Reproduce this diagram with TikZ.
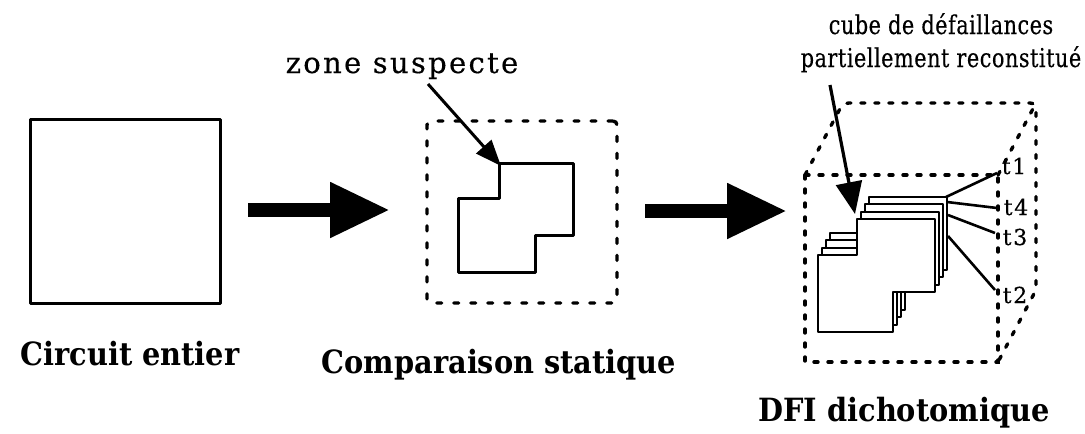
\documentclass[tikz,border=0pt]{standalone}
\usepackage{fontspec}
\setmainfont{DejaVu Serif}
\newfontfamily\labfont[LetterSpace=8,FakeBold=0.4]{DejaVu Serif}
\newfontfamily\cubefont[LetterSpace=2,FakeStretch=0.8,FakeBold=0.4]{DejaVu Serif}
\newfontfamily\titlefont[FakeStretch=0.9]{DejaVu Serif}
\usetikzlibrary{arrows.meta}
\begin{document}
\begin{tikzpicture}[x=1pt,y=-1pt,
  solidline/.style={line width=3pt, line join=round},
  dashbox/.style={line width=3.4pt, dash pattern=on 5pt off 12pt, line cap=round},
  cubedash/.style={line width=3.4pt, dash pattern=on 4pt off 10pt, line cap=round},
  bigarrow/.style={line width=14pt, -{Triangle[length=60pt,width=52pt]}},
  thinarrow/.style={line width=3pt, -{Triangle[length=26pt,width=20pt]}},
  cubearrow/.style={line width=3.2pt, -{Triangle[length=32pt,width=26pt]}},
  tickline/.style={line width=2.6pt},
  lab/.style={font=\fontsize{29}{32}\selectfont\labfont, inner sep=0pt},
  cubelab/.style={font=\fontsize{26}{29}\selectfont\cubefont, inner sep=0pt},
  tlab/.style={font=\fontsize{22}{24}\selectfont\labfont, inner sep=0pt},
  ttl/.style={font=\fontsize{32}{36}\selectfont\titlefont\bfseries, inner sep=0pt},
  sheet/.style={line width=2.6pt, fill=white, line join=round}]
\useasboundingbox (0,0) rectangle (1085,434);

% circuit entier
\node[draw, solidline, minimum width=190pt, minimum height=184pt, inner sep=0pt] (circuit) at (125,211) {};
\node[ttl] (tcircuit) at (130,354) {Circuit entier};

% arrow 1
\coordinate (a1s) at (248,210);
\coordinate (a1e) at (390,210);
\draw[bigarrow] (a1s) -- (a1e);

% comparaison statique
\node[draw, dashbox, rounded corners=4pt, minimum width=190pt, minimum height=182pt, inner sep=0pt] (zone) at (522,212) {};
\draw[solidline] (458,272) -- (535,272) -- (535,235) -- (573,235) -- (573,163) -- (499,163) -- (499,198) -- (458,198) -- cycle;
\node[lab, anchor=base] (zs) at (402,73) {zone suspecte};
\coordinate (zsa) at (428,84);
\coordinate (zsb) at (501,166);
\draw[thinarrow] (zsa) -- (zsb);
\node[ttl] (tcomp) at (499,365) {Comparaison statique};

% arrow 2
\coordinate (a2s) at (645,211);
\coordinate (a2e) at (787,211);
\draw[bigarrow] (a2s) -- (a2e);

% cube
\coordinate (f1) at (805,175);
\coordinate (f2) at (998,175);
\coordinate (f3) at (998,362);
\coordinate (f4) at (805,362);
\coordinate (b1) at (843,103);
\coordinate (b2) at (1036,103);
\coordinate (b3) at (1036,290);
\draw[cubedash] (f1) -- (f2) -- (f3) -- (f4) -- cycle;
\draw[cubedash, rounded corners=6pt] (f1) -- (b1) -- (b2) -- (b3) -- (f3);
\draw[cubedash] (f2) -- (b2);

% stacked sheets
\foreach \dx/\dy in {12/-22, 8/-15, 4/-7, 0/0}{
  \draw[sheet, shift={(\dx,\dy)}] (818,332) -- (893,332) -- (893,292) -- (935,292) -- (935,219) -- (857,219) -- (857,255) -- (818,255) -- cycle;
}

% labels t1..t4
\node[tlab] (t1) at (1014,166) {t1};
\node[tlab] (t4) at (1016,207) {t4};
\node[tlab] (t3) at (1015,237) {t3};
\node[tlab] (t2) at (1015,295) {t2};
\coordinate (t1a) at (946,197);
\coordinate (t4a) at (947,202);
\coordinate (t3a) at (948,215);
\coordinate (t2a) at (948,236);
\coordinate (t1b) at (997,173);
\coordinate (t4b) at (997,208);
\coordinate (t3b) at (995,233);
\coordinate (t2b) at (995,290);
\draw[tickline] (t1a) -- (t1b);
\draw[tickline] (t4a) -- (t4b);
\draw[tickline] (t3a) -- (t3b);
\draw[tickline] (t2a) -- (t2b);

% cube label
\node[cubelab, anchor=base] (cl1) at (941,34) {cube de défaillances};
\node[cubelab, anchor=base] (cl2) at (941,67) {partiellement reconstitué};
\coordinate (cla) at (830,85);
\coordinate (clb) at (855,214);
\draw[cubearrow] (cla) -- (clb);

\node[ttl] (tdfi) at (904,413) {DFI dichotomique};
\end{tikzpicture}
\end{document}
